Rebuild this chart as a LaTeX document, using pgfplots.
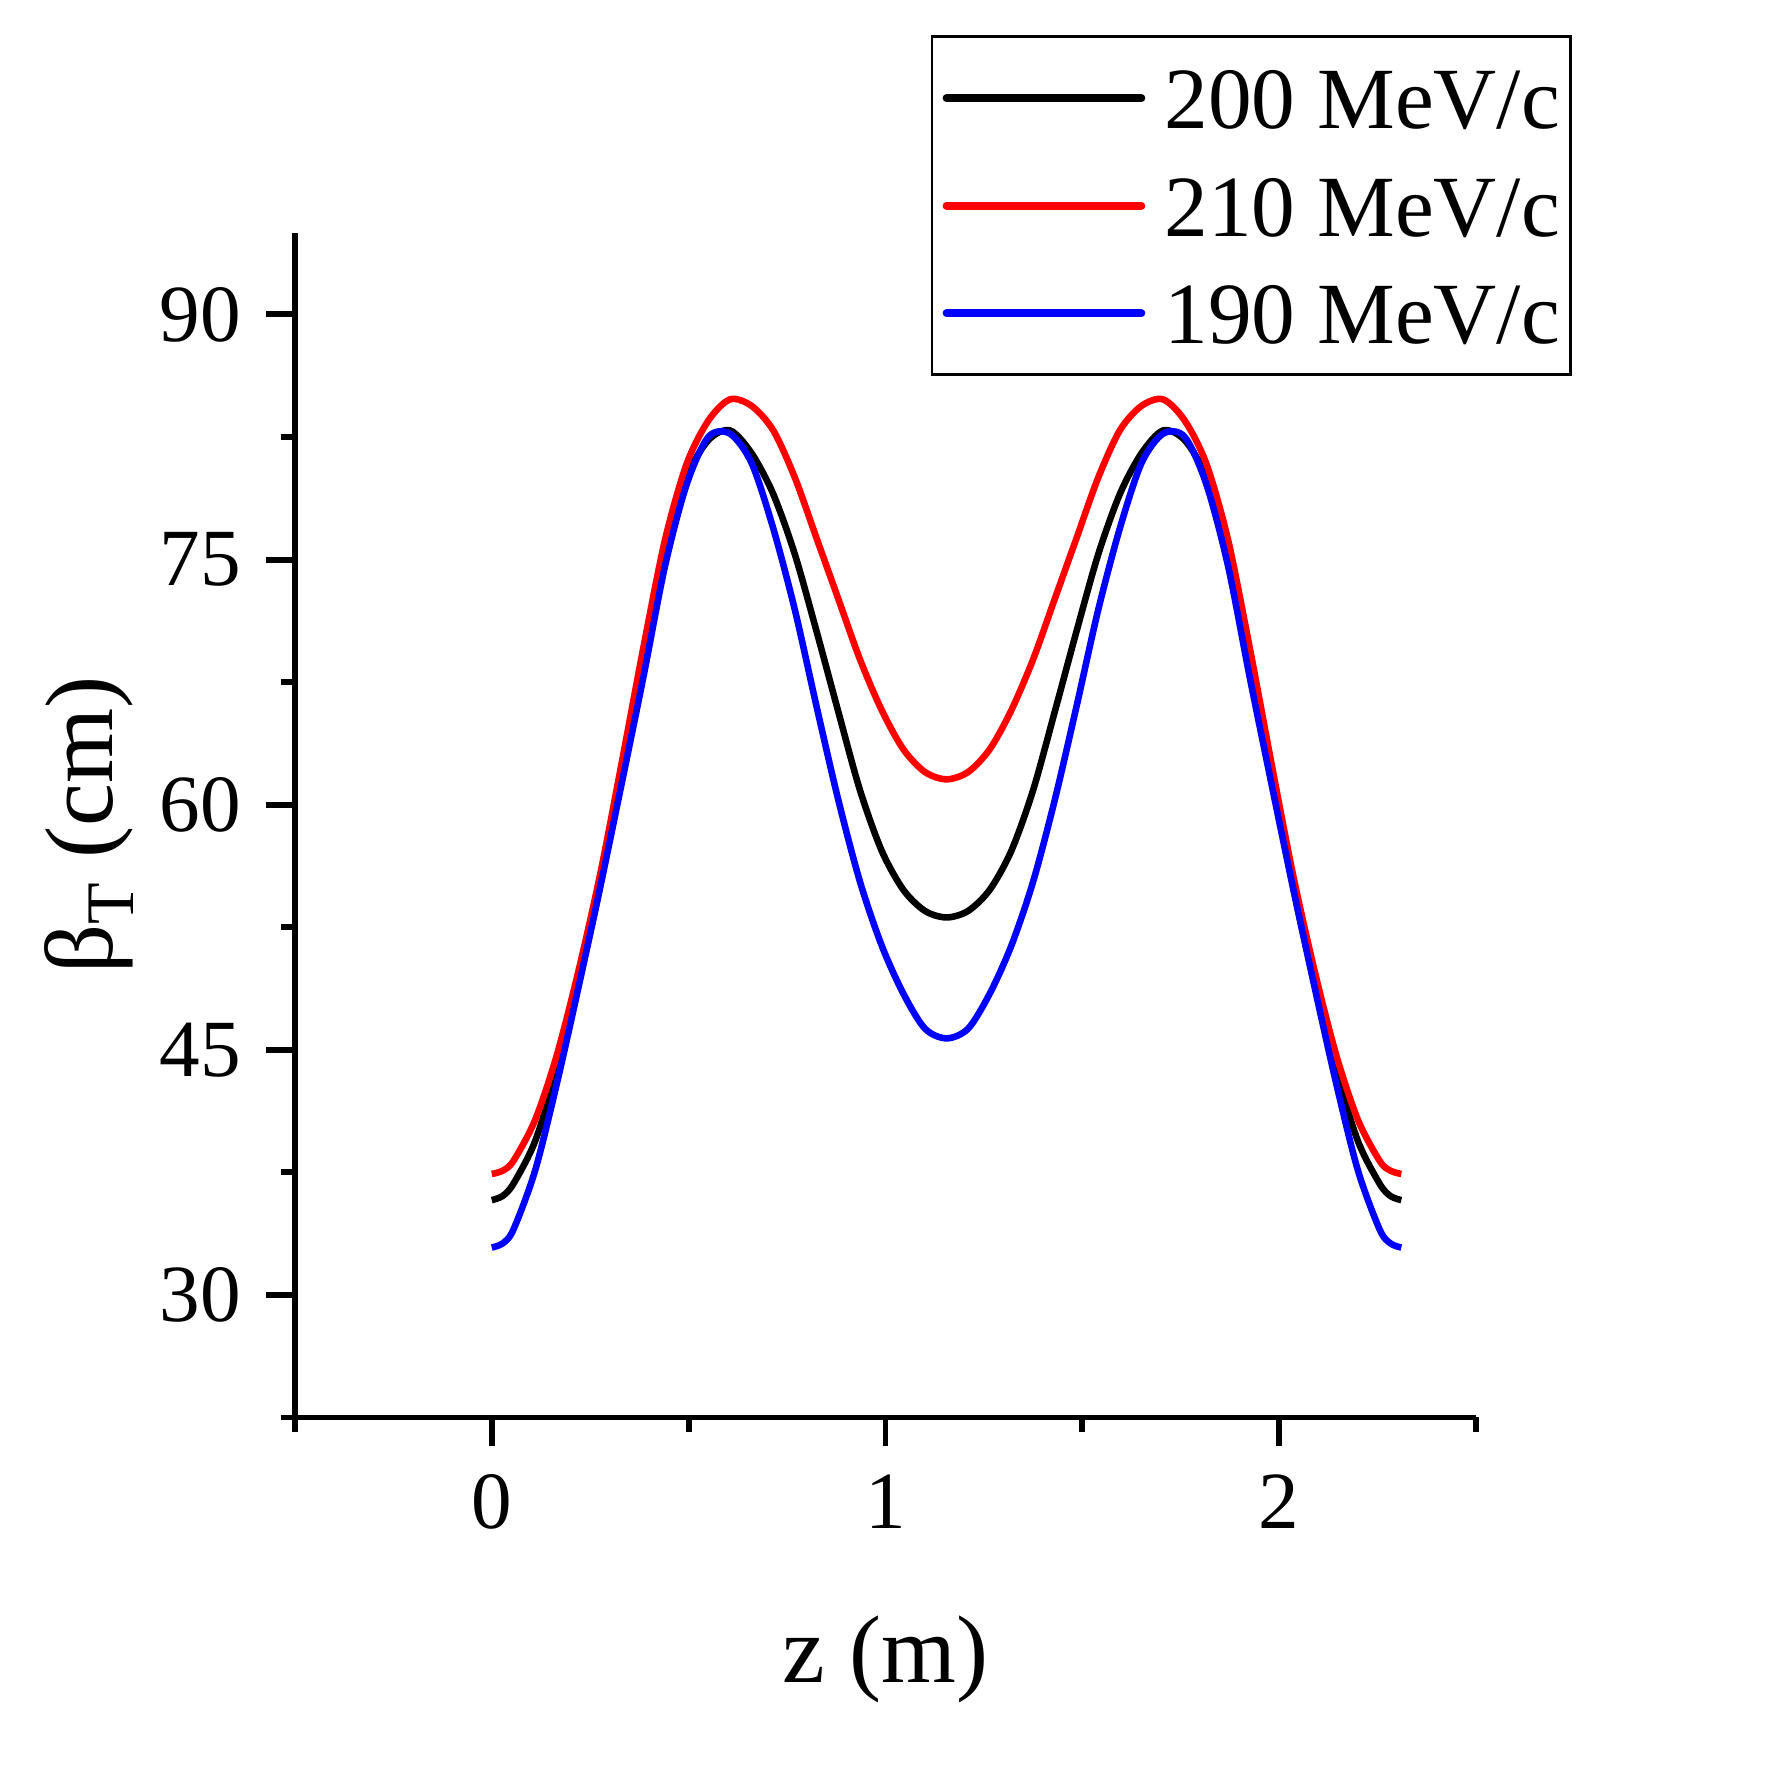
\documentclass[border=0pt]{standalone}
\usepackage{fontspec}
\setmainfont{Liberation Serif}
\usepackage{pgfplots}
\pgfplotsset{compat=1.18}
\pgfplotstableread{
z v
0 35.8
0.0275 36.05
0.055 36.8
0.11 39.4
0.165 43.7
0.22 49.0
0.275 55.0
0.33 61.9
0.385 68.6
0.44 75.4
0.495 80.0
0.55 82.3
0.605 82.9
0.66 81.5
0.715 79.0
0.77 75.3
0.825 70.6
0.88 65.7
0.935 60.9
0.99 57.2
1.045 54.8
1.10 53.5
1.155 53.1
1.21 53.5
1.265 54.8
1.32 57.2
1.375 60.9
1.43 65.7
1.485 70.6
1.54 75.3
1.595 79.0
1.65 81.5
1.705 82.9
1.76 82.3
1.815 80.0
1.87 75.4
1.925 68.6
1.98 61.9
2.035 55.0
2.09 49.0
2.145 43.7
2.20 39.4
2.255 36.8
2.2825 36.05
2.31 35.8
}\blackdata
\pgfplotstableread{
z v
0 37.4
0.0275 37.6
0.055 38.2
0.11 40.7
0.165 44.65
0.22 49.8
0.275 55.7
0.33 62.55
0.385 69.6
0.44 76.2
0.495 80.85
0.55 83.5
0.605 84.8
0.66 84.4
0.715 82.9
0.77 80.0
0.825 76.3
0.88 72.6
0.935 68.9
0.99 65.8
1.045 63.4
1.10 62.0
1.155 61.55
1.21 62.0
1.265 63.4
1.32 65.8
1.375 68.9
1.43 72.6
1.485 76.3
1.54 80.0
1.595 82.9
1.65 84.4
1.705 84.8
1.76 83.5
1.815 80.85
1.87 76.2
1.925 69.6
1.98 62.55
2.035 55.7
2.09 49.8
2.145 44.65
2.20 40.7
2.255 38.2
2.2825 37.6
2.31 37.4
}\reddata
\pgfplotstableread{
z v
0 32.9
0.0275 33.15
0.055 34.0
0.11 37.6
0.165 42.9
0.22 48.8
0.275 54.9
0.33 61.3
0.385 67.8
0.44 74.6
0.495 79.6
0.55 82.5
0.605 82.7
0.66 80.9
0.715 76.9
0.77 71.9
0.825 66.0
0.88 60.3
0.935 55.3
0.99 51.4
1.045 48.45
1.10 46.3
1.155 45.7
1.21 46.3
1.265 48.45
1.32 51.4
1.375 55.3
1.43 60.3
1.485 66.0
1.54 71.9
1.595 76.9
1.65 80.9
1.705 82.7
1.76 82.5
1.815 79.6
1.87 74.6
1.925 67.8
1.98 61.3
2.035 54.9
2.09 48.8
2.145 42.9
2.20 37.6
2.255 34.0
2.2825 33.15
2.31 32.9
}\bluedata
\begin{document}
\begin{tikzpicture}
\path[use as bounding box] (-67.2pt,-81.02pt) rectangle (336.4pt,323.03pt);
\begin{axis}[
  at={(0pt,0pt)}, anchor=south west,
  scale only axis, width=269.2pt, height=270pt,
  xmin=-0.5, xmax=2.5, ymin=22.5, ymax=95,
  axis x line=bottom, axis y line=left,
  axis line style={-, line width=1.35pt},
  xtick={0,1,2}, minor xtick={-0.5,0.5,1.5,2.5},
  ytick={30,45,60,75,90}, minor ytick={22.5,37.5,52.5,67.5,82.5},
  tick align=outside,
  major tick length=6.5pt, minor tick length=3.2pt,
  tick style={line width=1.35pt, black},
  /pgf/number format/assume math mode=true,
  ticklabel style={font=\fontsize{18.5}{18.5}\selectfont},
  yticklabel style={xshift=-2.3pt},
  xticklabel style={yshift=-3pt},
  xlabel={z (m)},
  xlabel style={font=\fontsize{21.9}{21.9}\selectfont, at={(axis description cs:0.5,-0.2237)}, anchor=base},
  ylabel={β\raisebox{-0.22em}{\fontsize{15.5}{15.5}\selectfont T} (cm)},
  ylabel style={font=\fontsize{22}{22}\selectfont, at={(axis description cs:-0.1545,0.5)}, anchor=base},
  legend style={at={(0.5383,1.1665)}, anchor=north west, draw=black, line width=0.6pt, fill=white,
    font=\fontsize{19.9}{19.9}\selectfont, inner xsep=2.4pt, inner ysep=3pt, row sep=2.5pt, column sep=4.4pt,
    nodes={inner sep=0pt, text height=18pt, text depth=4pt}},
  legend cell align=left,
  legend image code/.code={\draw[#1, line width=1.8pt, line cap=round] (0pt,0pt) -- (44.4pt,0pt);},
]
\addplot[black, line width=1.5pt, smooth] table[x=z, y=v] {\blackdata};
\addlegendentry{200 MeV/c}
\addplot[red, line width=1.5pt, smooth] table[x=z, y=v] {\reddata};
\addlegendentry{210 MeV/c}
\addplot[blue, line width=1.5pt, smooth] table[x=z, y=v] {\bluedata};
\addlegendentry{190 MeV/c}
\end{axis}
\end{tikzpicture}
\end{document}
